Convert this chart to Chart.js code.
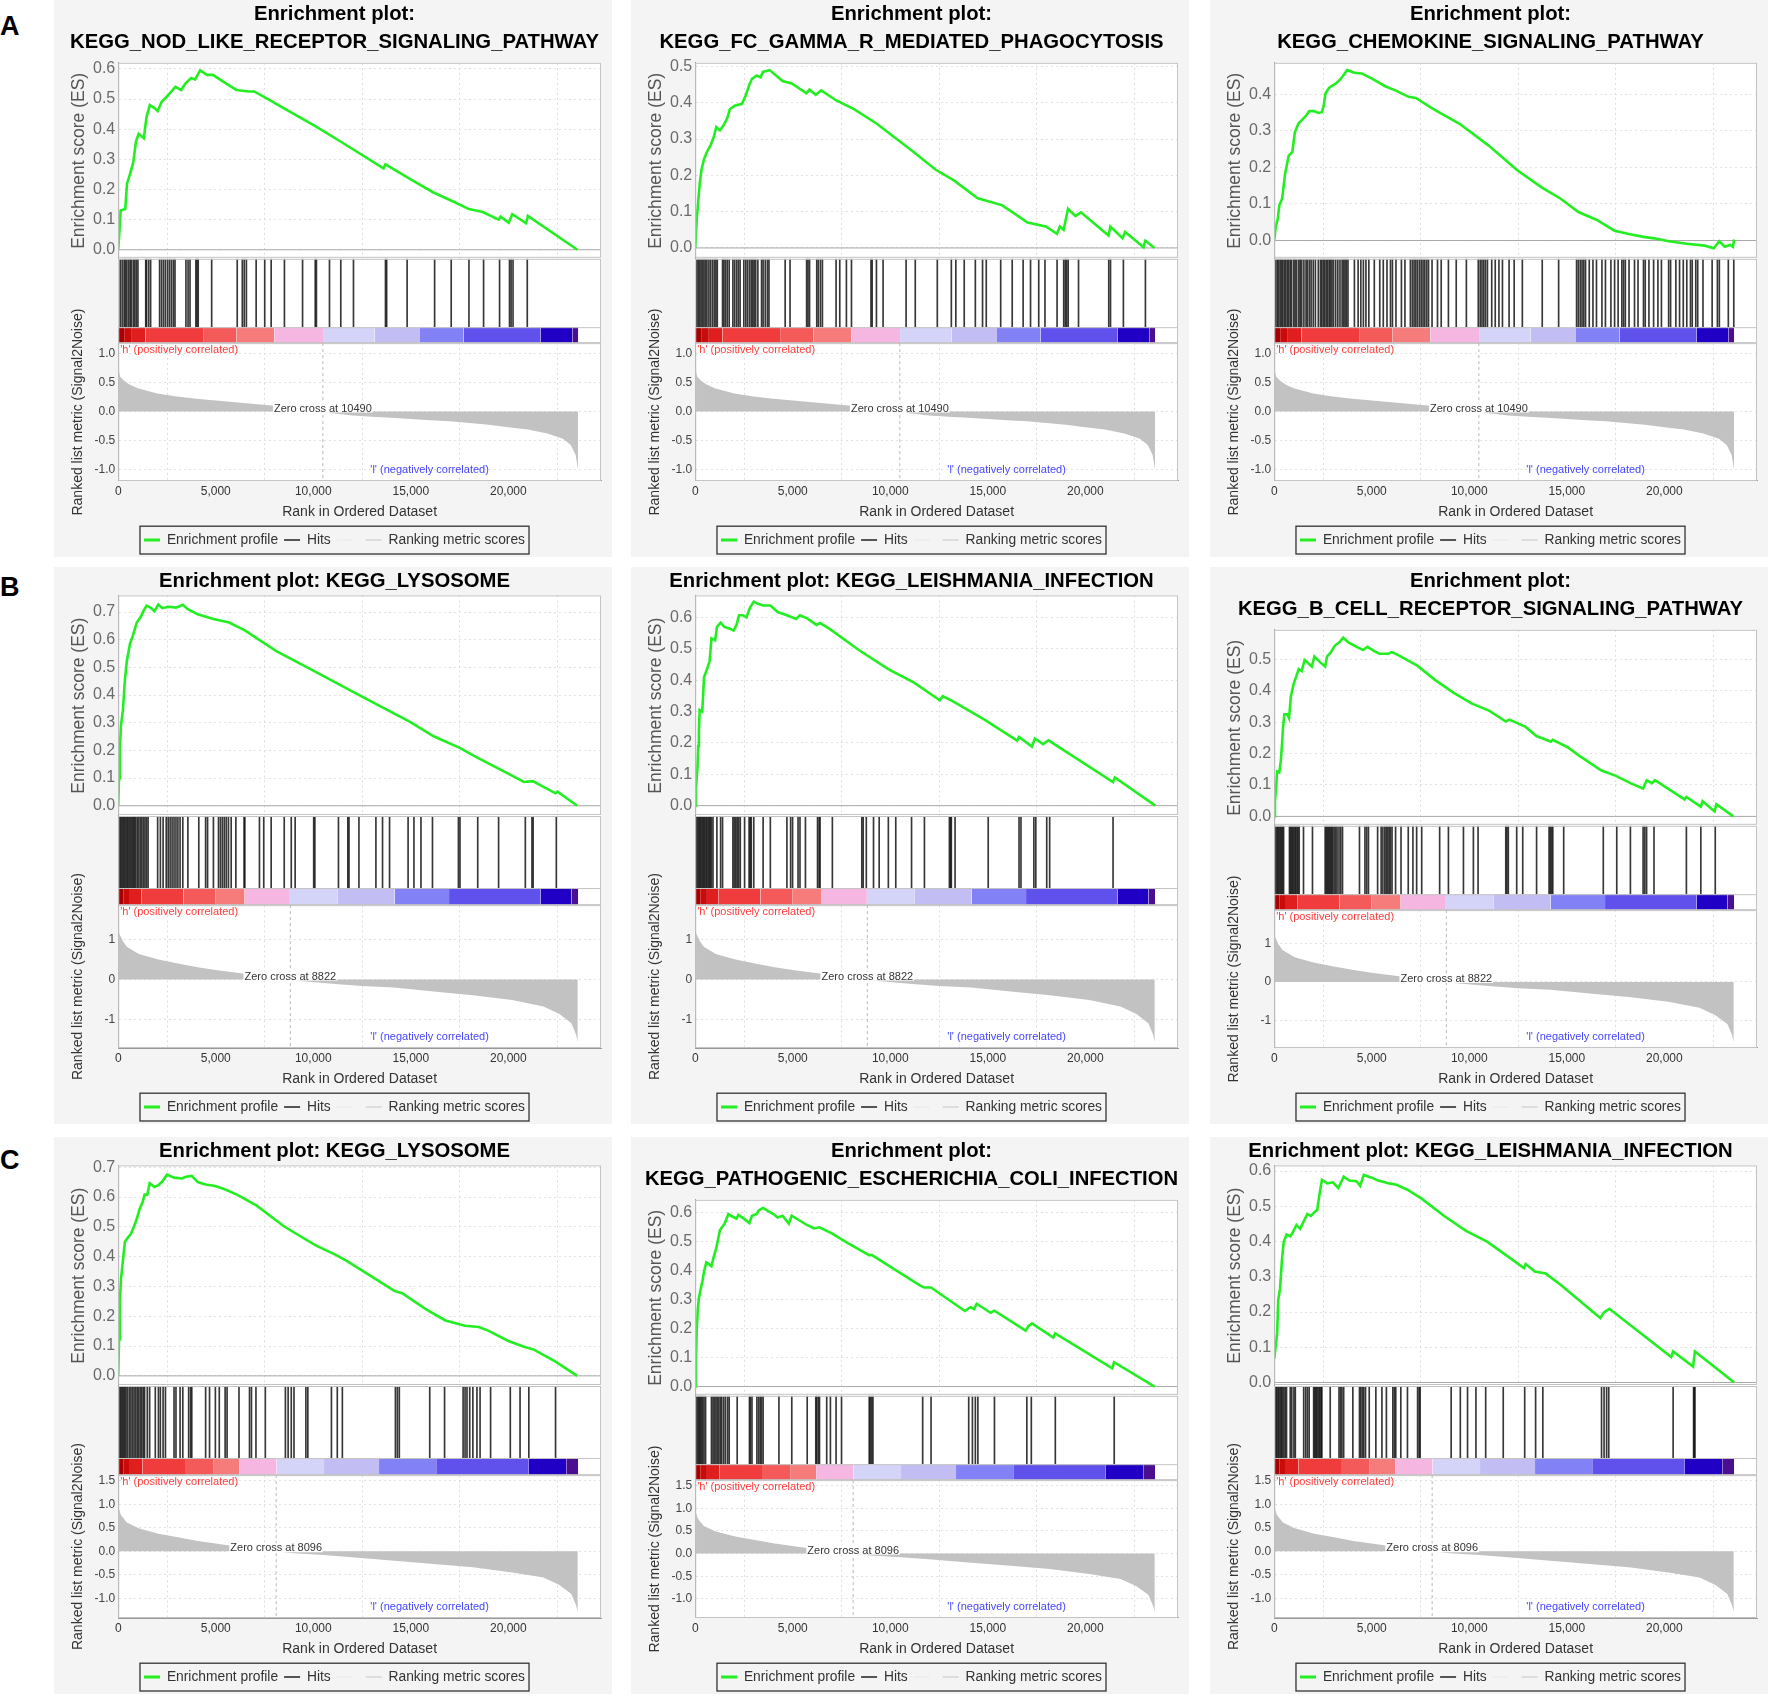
<!DOCTYPE html>
<html lang="en">
<head>
<meta charset="UTF-8">
<title>GSEA enrichment plots</title>
<script src="https://cdn.jsdelivr.net/npm/chart.js@4.4.1/dist/chart.umd.min.js"></script>
<style>
  body { margin: 0; background: #fff; }
  #page { position: relative; width: 1768px; height: 1696px; overflow: hidden; }
  .panel { position: absolute; width: 558px; height: 557px; background: #f4f4f4; }
  .tag { position: absolute; left: 0; line-height: 1; font: bold 27px "Liberation Sans", Arial, sans-serif; color: #000; }
</style>
</head>
<body>
<div id="page">
  <div class="tag" style="top:11px">A</div>
  <div class="tag" style="top:572px">B</div>
  <div class="tag" style="top:1145px">C</div>
</div>

<script>
// ---- data (rank in ordered dataset, value) ----
const titles = [
  ['Enrichment plot:', 'KEGG_NOD_LIKE_RECEPTOR_SIGNALING_PATHWAY'],
  ['Enrichment plot:', 'KEGG_FC_GAMMA_R_MEDIATED_PHAGOCYTOSIS'],
  ['Enrichment plot:', 'KEGG_CHEMOKINE_SIGNALING_PATHWAY'],
  ['Enrichment plot: KEGG_LYSOSOME'],
  ['Enrichment plot: KEGG_LEISHMANIA_INFECTION'],
  ['Enrichment plot:', 'KEGG_B_CELL_RECEPTOR_SIGNALING_PATHWAY'],
  ['Enrichment plot: KEGG_LYSOSOME'],
  ['Enrichment plot:', 'KEGG_PATHOGENIC_ESCHERICHIA_COLI_INFECTION'],
  ['Enrichment plot: KEGG_LEISHMANIA_INFECTION']
];

// enrichment score axis limits per panel [min, max]
const esLimits = [[-0.03, 0.62], [-0.03, 0.51], [-0.05, 0.486], [-0.037, 0.76], [-0.033, 0.67],
                  [-0.03, 0.594], [-0.034, 0.706], [-0.032, 0.645], [-0.01, 0.616]];
const esTicks = [0, 0.1, 0.2, 0.3, 0.4, 0.5, 0.6, 0.7];
const xTicks = [0, 5000, 10000, 15000, 20000];

const esA1 = [[0,0],[60,0.06],[120,0.13],[360,0.135],[450,0.22],[600,0.25],[770,0.29],[910,0.36],[1050,0.385],[1310,0.37],[1450,0.44],[1620,0.48],[1860,0.47],[2020,0.46],[2220,0.49],[2520,0.51],[2930,0.54],[3230,0.53],[3430,0.55],[3740,0.57],[3940,0.565],[4200,0.595],[4550,0.58],[4850,0.58],[5560,0.55],[6060,0.53],[6670,0.525],[6970,0.525],[7680,0.5],[8480,0.47],[10100,0.41],[11500,0.355],[13600,0.27],[13700,0.283],[14950,0.235],[16160,0.19],[17170,0.16],[17980,0.135],[18690,0.125],[19500,0.1],[19600,0.11],[20020,0.09],[20200,0.118],[20910,0.088],[21000,0.112],[23540,0]];
const esA2 = [[0,0],[76,0.078],[150,0.127],[227,0.176],[321,0.216],[453,0.245],[604,0.265],[793,0.284],[944,0.304],[1077,0.333],[1265,0.324],[1454,0.338],[1643,0.358],[1775,0.382],[2021,0.392],[2399,0.397],[2587,0.42],[2776,0.45],[2908,0.466],[3154,0.475],[3343,0.47],[3475,0.485],[3815,0.49],[4476,0.46],[4948,0.453],[5703,0.426],[5855,0.436],[6176,0.422],[6459,0.434],[7214,0.407],[8159,0.382],[9292,0.343],[11180,0.265],[12313,0.216],[13258,0.186],[14485,0.137],[15713,0.118],[16279,0.098],[17035,0.07],[17979,0.059],[18545,0.039],[18696,0.059],[18885,0.05],[19112,0.108],[19490,0.088],[19773,0.098],[21190,0.034],[21284,0.059],[21908,0.027],[22040,0.044],[22984,0.002],[23078,0.02],[23550,0]];
const esA3 = [[0,0],[74,0.037],[185,0.061],[259,0.096],[407,0.115],[556,0.183],[741,0.232],[926,0.242],[1056,0.296],[1241,0.32],[1426,0.33],[1611,0.34],[1796,0.354],[2037,0.354],[2259,0.349],[2444,0.351],[2537,0.369],[2630,0.403],[2815,0.418],[3148,0.429],[3407,0.442],[3741,0.466],[4111,0.459],[4481,0.457],[5037,0.442],[5685,0.422],[6241,0.41],[6889,0.393],[7259,0.39],[8185,0.359],[9481,0.32],[10963,0.261],[12444,0.193],[13741,0.144],[14667,0.115],[15593,0.078],[16519,0.057],[17444,0.027],[18185,0.018],[18926,0.01],[19481,0.006],[20222,-0.002],[21148,-0.009],[22074,-0.014],[22537,-0.021],[22815,-0.002],[23093,-0.017],[23370,-0.012],[23519,-0.017],[23574,0.003]];
const esB1 = [[0,0],[40,0.1],[81,0.21],[141,0.29],[242,0.347],[343,0.456],[444,0.525],[605,0.586],[746,0.614],[948,0.662],[1149,0.682],[1290,0.703],[1452,0.723],[1653,0.716],[1855,0.703],[2056,0.727],[2258,0.714],[2560,0.719],[2964,0.716],[3306,0.726],[3569,0.71],[4073,0.692],[4879,0.675],[5685,0.662],[6492,0.634],[8105,0.559],[10121,0.484],[12137,0.408],[14153,0.333],[14960,0.303],[16169,0.251],[17480,0.21],[18387,0.175],[19496,0.134],[20806,0.086],[21250,0.089],[22419,0.045],[22520,0.051],[23528,0]];
const esB2 = [[0,0],[38,0.053],[76,0.09],[113,0.12],[151,0.19],[189,0.238],[227,0.305],[359,0.3],[453,0.41],[604,0.435],[737,0.46],[831,0.533],[1020,0.527],[1114,0.57],[1303,0.583],[1492,0.57],[1775,0.564],[1964,0.558],[2115,0.576],[2247,0.607],[2436,0.607],[2625,0.6],[2814,0.632],[3003,0.65],[3192,0.644],[3475,0.638],[3853,0.638],[4230,0.617],[4702,0.607],[5175,0.595],[5363,0.607],[5741,0.597],[6213,0.576],[6402,0.582],[6874,0.564],[8385,0.496],[9896,0.435],[11218,0.392],[12540,0.336],[12691,0.349],[13106,0.336],[14806,0.275],[16505,0.207],[16600,0.219],[17261,0.188],[17413,0.214],[17828,0.196],[18111,0.208],[21416,0.075],[21511,0.09],[23588,0]];
const esB3 = [[0,0],[37,0.048],[111,0.106],[148,0.143],[259,0.14],[333,0.175],[389,0.221],[444,0.279],[519,0.325],[667,0.325],[759,0.313],[852,0.382],[1000,0.423],[1130,0.446],[1259,0.469],[1407,0.463],[1556,0.498],[1778,0.486],[1926,0.477],[2056,0.509],[2333,0.492],[2611,0.477],[2704,0.509],[2889,0.521],[3111,0.544],[3352,0.555],[3537,0.569],[3815,0.553],[4278,0.538],[4556,0.53],[4778,0.54],[5111,0.527],[5389,0.518],[5852,0.518],[6037,0.523],[6407,0.512],[7333,0.48],[8259,0.434],[9185,0.394],[10111,0.36],[11037,0.336],[11870,0.302],[12056,0.308],[12889,0.285],[13444,0.256],[14185,0.238],[14278,0.244],[15019,0.221],[15667,0.192],[16778,0.146],[17519,0.129],[18259,0.106],[18907,0.089],[19093,0.115],[19370,0.106],[19519,0.115],[21037,0.054],[21130,0.062],[21870,0.031],[21963,0.048],[22574,0.016],[22667,0.039],[23537,0]];
const esC1 = [[0,0],[40,0.123],[81,0.249],[141,0.325],[242,0.388],[343,0.45],[484,0.463],[645,0.476],[806,0.501],[948,0.526],[1089,0.558],[1250,0.583],[1351,0.608],[1492,0.608],[1613,0.646],[1855,0.634],[2056,0.64],[2258,0.652],[2500,0.675],[2863,0.665],[3266,0.662],[3468,0.668],[3770,0.671],[4073,0.65],[4476,0.642],[4980,0.637],[5484,0.625],[6089,0.608],[7097,0.571],[8508,0.501],[10121,0.438],[11129,0.407],[11734,0.385],[13145,0.327],[14153,0.285],[14556,0.277],[15766,0.224],[16774,0.186],[17782,0.168],[18488,0.164],[18992,0.151],[20000,0.117],[20806,0.098],[21310,0.088],[22419,0.048],[23528,0]];
const esC2 = [[0,0],[38,0.094],[76,0.193],[132,0.268],[189,0.305],[264,0.332],[378,0.367],[453,0.398],[567,0.429],[699,0.423],[831,0.416],[944,0.447],[1077,0.478],[1171,0.509],[1265,0.54],[1398,0.553],[1511,0.563],[1700,0.596],[1832,0.59],[2115,0.58],[2210,0.593],[2493,0.58],[2776,0.565],[2908,0.59],[3154,0.596],[3248,0.608],[3475,0.617],[4004,0.596],[4230,0.584],[4476,0.59],[4797,0.563],[4948,0.59],[5703,0.559],[6081,0.546],[6364,0.55],[7025,0.528],[7781,0.497],[8914,0.454],[9065,0.454],[10236,0.404],[11558,0.348],[11747,0.342],[12087,0.342],[13825,0.261],[14108,0.274],[14297,0.268],[14429,0.286],[15147,0.255],[15335,0.262],[16940,0.193],[17073,0.208],[17262,0.218],[18357,0.169],[18452,0.184],[21379,0.063],[21474,0.084],[23550,0]];
const esC3 = [[0,0.067],[37,0.067],[75,0.103],[149,0.14],[205,0.235],[299,0.267],[392,0.346],[485,0.399],[634,0.42],[821,0.415],[951,0.426],[1138,0.447],[1325,0.436],[1511,0.457],[1698,0.478],[1884,0.473],[2071,0.484],[2201,0.489],[2313,0.531],[2444,0.575],[2724,0.565],[3004,0.568],[3284,0.552],[3563,0.584],[3843,0.573],[4216,0.571],[4403,0.558],[4590,0.589],[4963,0.582],[5336,0.573],[5896,0.565],[6269,0.561],[6828,0.547],[7575,0.521],[8694,0.473],[9813,0.431],[10933,0.399],[11866,0.362],[12799,0.325],[12892,0.336],[13358,0.315],[13918,0.309],[14664,0.278],[15597,0.235],[16716,0.183],[16903,0.199],[17183,0.209],[20354,0.072],[20448,0.088],[21474,0.045],[21567,0.088],[23582,0]];

const hitsA1 = [100,200,300,360,440,530,610,670,770,850,930,1010,1410,1450,1560,1660,2120,2220,2320,2420,2530,2630,2730,2830,2910,3470,3580,3680,3980,4040,4100,4790,6100,6360,6460,6570,7070,7510,7840,8520,9450,10100,10160,10830,11410,12060,13700,13760,14810,16220,17070,17980,18730,19550,20060,20140,20240,20970];
const hitsA2 = [80,150,230,300,380,450,530,600,700,790,890,980,1060,1130,1400,1470,1550,1640,1740,1930,2020,2120,2210,2300,2490,2590,2680,2780,2870,2950,3020,3100,3210,3400,3480,3590,3700,3780,4610,4860,5710,5780,5860,6230,6310,6420,6520,7220,7410,7750,8010,9010,9070,9290,9630,10810,11280,12410,13130,13360,13790,14360,14730,14920,15660,16250,16810,17190,17610,17930,18550,18890,18970,19040,19120,19650,21200,21290,21950,23080];
const hitsA3 = [70,150,220,300,370,440,520,590,670,740,820,890,1000,1070,1150,1260,1330,1410,1520,1630,1700,1800,1890,2000,2110,2260,2370,2440,2520,2590,2670,2740,2820,2890,2960,3040,3150,3260,3370,3480,3560,3630,3700,3780,4110,4300,4440,4570,4700,4850,5130,5410,5590,5780,5960,6060,6240,6520,6700,6980,7080,7170,7260,7350,7450,7540,7630,7720,7820,7910,8090,8370,8560,8930,9330,9850,10460,10560,10650,10740,10830,10930,11150,11330,11520,11700,12040,12300,12720,13740,14580,15500,15590,15690,15780,15870,15960,16150,16340,16520,16800,16980,17260,17450,17630,17820,17910,18000,18190,18470,18650,18930,19020,19210,19450,19670,19850,20220,20320,20590,20780,20970,21150,21340,21430,21610,21710,21980,22450,22720,22820,23280,23560];
const hitsB1 = [40,100,160,220,280,340,400,460,520,590,650,710,770,830,890,970,1050,1130,1210,1290,1370,1450,1530,2020,2160,2300,2460,2560,2660,2760,2860,2960,3060,3170,3310,3570,4130,4480,4580,4880,5140,5240,5340,5440,5540,5650,5790,6030,6450,6490,7240,7460,7840,8510,8870,9070,10020,10080,11290,11770,11830,12340,13210,13550,13910,14860,15160,15520,16110,17440,17520,18430,19500,20870,21210,21270,22460];
const hitsB2 = [40,90,150,210,260,320,380,430,490,550,600,660,720,770,830,910,1110,1300,1400,1930,2000,2080,2150,2230,2310,2530,2760,2820,2870,3000,3480,3850,4700,4890,4990,5270,5370,5650,6270,6350,6400,7030,8540,8610,8770,9140,9430,9900,10280,11090,11750,13030,13090,13130,13320,15020,16600,16700,17360,17460,18020,18170,21420];
const hitsB3 = [40,90,150,200,260,320,370,430,480,780,830,890,940,1000,1060,1110,1170,1220,1280,1500,1960,2610,2670,2720,2780,2830,2890,2940,3000,3070,3150,3220,3320,3410,3500,4370,4650,4740,4830,5300,5480,5570,5670,5740,5820,5890,5960,6040,6220,6500,6870,7110,7300,7560,8480,8930,9700,10210,10450,11870,11930,12000,12430,12740,13450,14090,14150,14220,14280,14840,16870,17560,18260,18910,19000,19090,19470,21130,21870,22610];
const hitsC1 = [40,100,160,220,280,340,400,480,570,650,730,810,890,970,1050,1130,1210,1290,1350,1490,1610,1900,2060,2160,2300,2420,2860,2960,3170,3310,3610,3710,3770,4480,4680,4980,5180,5480,5580,6190,6730,6830,7060,7540,8570,8710,8870,9010,9620,9720,10930,11230,11490,14210,14310,14410,15970,16730,17680,17780,17880,18020,18180,18390,18550,19090,20100,20600,21050,22420];
const hitsC2 = [40,90,150,210,260,320,380,450,530,830,910,980,1060,1130,1210,1290,1360,1460,1550,1660,1740,2150,2780,2830,2910,3160,3250,3330,3400,3480,4290,4950,5740,6180,6230,6310,6370,6740,6930,7220,7500,8920,8970,9050,9110,11660,12090,14020,14210,14360,14490,15340,17000,17230,18460,21480];
const hitsC3 = [80,130,190,240,300,360,410,490,560,630,820,900,1010,1080,1510,1610,1700,1790,2020,2070,2130,2180,2240,2300,2350,2410,2440,2870,3320,3400,3470,3560,4030,4370,4440,4520,4590,4680,4870,5210,5520,5750,6080,6160,6230,6490,6830,7350,7430,7480,9070,9540,9910,10340,10840,11740,12840,13400,13770,16780,16910,17040,17150,20450,21500,21530,21570];

// ranked list metric (one ranking per row)
const rankA = [[0,0.75],[100,0.6],[300,0.53],[600,0.46],[1000,0.4],[2000,0.31],[3000,0.26],[4000,0.22],[5000,0.19],[6000,0.16],[7000,0.13],[8000,0.1],[9000,0.06],[10000,0.02],[10490,0],[11000,-0.03],[12000,-0.07],[13000,-0.09],[14000,-0.11],[15000,-0.13],[16000,-0.15],[17000,-0.17],[18000,-0.2],[19000,-0.23],[20000,-0.27],[21000,-0.31],[22000,-0.38],[22800,-0.47],[23200,-0.58],[23450,-0.75],[23570,-1.0]];
const rankB = [[0,1.34],[50,1.15],[240,0.96],[440,0.82],[1050,0.64],[2060,0.5],[3060,0.4],[4070,0.31],[5080,0.23],[6090,0.17],[7000,0.11],[8100,0.06],[8822,0],[9500,-0.04],[11130,-0.11],[12500,-0.16],[14150,-0.2],[16170,-0.3],[18180,-0.39],[20200,-0.51],[21800,-0.67],[22620,-0.86],[23230,-1.09],[23470,-1.37],[23560,-1.56]];
const rankC = [[0,1.0],[40,0.9],[140,0.77],[440,0.61],[1050,0.49],[2060,0.375],[3060,0.3],[4070,0.22],[5080,0.16],[6090,0.1],[7000,0.06],[8096,0],[9000,-0.04],[10520,-0.08],[12140,-0.13],[14150,-0.2],[16170,-0.27],[18180,-0.34],[20200,-0.45],[21810,-0.56],[22620,-0.72],[23230,-0.91],[23470,-1.15],[23560,-1.3]];
const rankLimits = [[-1.2, 1.18], [-1.71, 1.86], [-1.42, 1.62]];
const rankTicksA = [-1, -0.5, 0, 0.5, 1];
const rankTicksB = [-1, 0, 1];
const rankTicksC = [-1, -0.5, 0, 0.5, 1, 1.5];
const zeroCross = [10490, 8822, 8096];

// colour bar segment boundaries (rank) per row
const barA = [0,300,700,1400,4350,6070,8000,10500,13150,15470,17700,21660,23280,23580];
const barB = [0,250,600,1200,3340,5000,6480,8800,11230,14170,16960,21660,23240,23580];
const barC = [0,250,600,1250,3470,4900,6200,8120,10550,13370,16300,21050,22970,23580];

const xMax = 24750;

// ---- styles ----
const FONT = '"Liberation Sans", Arial, sans-serif';
const barColors = ['#a80000','#c80c0c','#e01e1e','#f03c3c','#f45a5a','#f67c7c','#f6b6e2','#d4d4f8','#c2bef4','#8282f6','#6050ec','#2000c4','#4a0e90'];
const legendItems = [
  {text: 'Enrichment profile', color: '#22ee22', w: 3},
  {text: 'Hits', color: '#555555', w: 2},
  {text: '', color: 'rgba(0,0,0,0.05)', w: 1},
  {text: 'Ranking metric scores', color: '#dddddd', w: 2}
];
const colLeft = [54, 631, 1210];
const rowTop = [0, 567, 1137];

Chart.defaults.font.family = FONT;

const panels = [
  {es: esA1, hits: hitsA1}, {es: esA2, hits: hitsA2}, {es: esA3, hits: hitsA3},
  {es: esB1, hits: hitsB1}, {es: esB2, hits: hitsB2}, {es: esB3, hits: hitsB3},
  {es: esC1, hits: hitsC1}, {es: esC2, hits: hitsC2}, {es: esC3, hits: hitsC3}
];
const rowRank = [rankA, rankB, rankC];
const rowRankTicks = [rankTicksA, rankTicksB, rankTicksC];
const rowBar = [barA, barB, barC];

// fixed tick positions taken from the lists above
function fixedTicks(values) {
  return axis => {
    axis.ticks = values.filter(v => v >= axis.min - 1e-9 && v <= axis.max + 1e-9).map(v => ({value: v}));
  };
}

function decor(row) {
  return {
    id: 'decor',
    beforeDraw(chart) {
      const {ctx, chartArea: a} = chart;
      ctx.save();
      ctx.fillStyle = '#fff';
      ctx.fillRect(a.left, a.top, a.right - a.left, a.bottom - a.top);
      ctx.restore();
    },
    beforeDatasetsDraw(chart) {
      const {ctx, chartArea: a, scales: s} = chart;
      ctx.save();
      // no grid inside the hits strip
      ctx.fillStyle = '#fff';
      ctx.fillRect(a.left, s.yHits.top, a.right - a.left, s.yBar.bottom - s.yHits.top);
      const y0 = s.yES.getPixelForValue(0);
      ctx.strokeStyle = '#a8a8a8';
      ctx.lineWidth = 1;
      ctx.beginPath(); ctx.moveTo(a.left, y0); ctx.lineTo(a.right, y0); ctx.stroke();
      ctx.restore();
    },
    afterDatasetsDraw(chart) {
      const {ctx, chartArea: a, scales: s} = chart;
      const w = a.right - a.left;
      ctx.save();
      ctx.strokeStyle = '#c4c4c4';
      ctx.lineWidth = 1;
      ctx.strokeRect(a.left + 0.5, s.yES.top + 0.5, w - 1, s.yES.bottom - s.yES.top - 2);
      ctx.strokeRect(a.left + 0.5, s.yHits.top + 0.5, w - 1, s.yBar.bottom - s.yHits.top - 1);
      ctx.beginPath(); ctx.moveTo(a.left, s.yBar.top + 0.5); ctx.lineTo(a.right, s.yBar.top + 0.5); ctx.stroke();
      ctx.strokeRect(a.left + 0.5, s.yRank.top + 0.5, w - 1, s.yRank.bottom - s.yRank.top - 1);

      // zero cross marker
      const zx = s.x.getPixelForValue(zeroCross[row]);
      const zy = s.yRank.getPixelForValue(0);
      ctx.setLineDash([3, 3]);
      ctx.strokeStyle = '#b8b8b8';
      ctx.beginPath(); ctx.moveTo(zx, s.yRank.top); ctx.lineTo(zx, s.yRank.bottom); ctx.stroke();
      ctx.setLineDash([]);
      ctx.font = '11px ' + FONT;
      ctx.textBaseline = 'middle';
      const label = 'Zero cross at ' + zeroCross[row];
      const tw = ctx.measureText(label).width;
      ctx.fillStyle = '#fff';
      ctx.fillRect(zx - tw / 2 - 1, zy - 8, tw + 2, 9);
      ctx.fillStyle = '#333';
      ctx.textAlign = 'center';
      ctx.fillText(label, zx, zy - 3);

      ctx.textAlign = 'left';
      ctx.fillStyle = '#ff3c3c';
      ctx.fillText("'h' (positively correlated)", s.x.getPixelForValue(100), s.yBar.bottom + 7);
      ctx.textAlign = 'right';
      ctx.fillStyle = '#4646ff';
      ctx.fillText("'l' (negatively correlated)", s.x.getPixelForValue(19000), s.yRank.bottom - 11);
      ctx.restore();
    },
    afterDraw(chart) {
      const boxes = chart.legend && chart.legend.legendHitBoxes;
      if (!boxes || !boxes.length) return;
      const l = Math.min(...boxes.map(b => b.left));
      const r = Math.max(...boxes.map(b => b.left + b.width));
      const t = Math.min(...boxes.map(b => b.top));
      const h = Math.max(...boxes.map(b => b.height));
      const ctx = chart.ctx;
      ctx.save();
      ctx.strokeStyle = '#333';
      ctx.lineWidth = 1.3;
      ctx.strokeRect(l - 4, t - 7, r - l + 8, h + 14);
      ctx.restore();
    }
  };
}

function build(p, idx) {
  const col = idx % 3, row = Math.floor(idx / 3);
  const div = document.createElement('div');
  div.className = 'panel';
  div.style.left = colLeft[col] + 'px';
  div.style.top = rowTop[row] + 'px';
  const canvas = document.createElement('canvas');
  canvas.width = 558; canvas.height = 557;
  canvas.style.width = '558px'; canvas.style.height = '557px';
  div.appendChild(canvas);
  document.getElementById('page').appendChild(div);

  const title = titles[idx];
  const twoLine = title.length > 1;
  const weights = twoLine ? [172, 60, 14, 121] : [193, 63, 15, 125];
  const [esMin, esMax] = esLimits[idx];
  const [rMin, rMax] = rankLimits[row];
  const rDec = row === 1 ? 0 : 1;
  const bounds = rowBar[row];

  const datasets = [
    {type: 'line', label: 'Enrichment profile', yAxisID: 'yES',
     data: p.es.map(([x, y]) => ({x, y})),
     borderColor: '#22ee22', borderWidth: 2.6, pointRadius: 0, tension: 0, fill: false},
    {type: 'bar', label: 'Hits', yAxisID: 'yHits',
     data: p.hits.map(x => ({x, y: [0, 1]})),
     backgroundColor: 'rgba(20,20,20,0.85)', barThickness: 1}
  ];
  for (let i = 0; i < bounds.length - 1; i++) {
    datasets.push({type: 'line', label: '', yAxisID: 'yBar',
      data: [{x: bounds[i], y: 1}, {x: bounds[i + 1], y: 1}],
      fill: 'origin', backgroundColor: barColors[i], borderWidth: 0, pointRadius: 0});
  }
  datasets.push({type: 'line', label: 'Ranking metric scores', yAxisID: 'yRank',
    data: rowRank[row].map(([x, y]) => ({x, y})),
    fill: 'origin', backgroundColor: '#c2c2c2', borderWidth: 0, pointRadius: 0, tension: 0});

  const hidden = {ticks: {display: false}, grid: {display: false}, border: {display: false}};

  new Chart(canvas, {
    type: 'line',
    data: {datasets},
    options: {
      responsive: false,
      animation: false,
      events: [],
      layout: {padding: {left: 14, right: 11, top: 0, bottom: 0}},
      plugins: {
        tooltip: {enabled: false},
        title: {display: true, text: title, color: '#000',
                font: {size: 20.3, weight: 'bold', lineHeight: 1.4},
                padding: {top: 0, bottom: twoLine ? 6 : 0}},
        legend: {
          position: 'bottom',
          labels: {
            usePointStyle: true, pointStyleWidth: 16, padding: 6, color: '#333',
            font: {size: 13.8},
            generateLabels: () => legendItems.map((it, i) => ({
              text: it.text, strokeStyle: it.color, fillStyle: it.color, lineWidth: it.w,
              pointStyle: 'line', hidden: false, fontColor: '#333', datasetIndex: i
            }))
          }
        }
      },
      scales: {
        x: {type: 'linear', min: 0, max: xMax, offset: false,
            afterBuildTicks: fixedTicks(xTicks),
            ticks: {autoSkip: false, padding: 3, color: '#333', font: {size: 12}, maxRotation: 0,
                    callback: v => v.toLocaleString('en-US')},
            grid: {color: '#dedede', drawTicks: false},
            border: {color: '#999', dash: [2, 3]},
            title: {display: true, text: 'Rank in Ordered Dataset', color: '#333', font: {size: 14},
                    padding: {top: 2, bottom: 7}}},
        yRank: {type: 'linear', position: 'left', stack: 'gsea', stackWeight: weights[3],
            min: rMin, max: rMax,
            afterBuildTicks: fixedTicks(rowRankTicks[row]),
            ticks: {autoSkip: false, color: '#444', font: {size: 12}, padding: 3,
                    callback: v => v.toFixed(rDec)},
            grid: {color: '#e2e2e2', drawTicks: false},
            border: {color: '#999', dash: [2, 3]},
            title: {display: true, text: 'Ranked list metric (Signal2Noise)', color: '#333',
                    font: {size: 14}, padding: {top: 2, bottom: 2}}},
        yBar: Object.assign({type: 'linear', position: 'left', stack: 'gsea', stackWeight: weights[2],
            min: 0, max: 1}, hidden),
        yHits: Object.assign({type: 'linear', position: 'left', stack: 'gsea', stackWeight: weights[1],
            min: 0, max: 1}, hidden),
        yES: {type: 'linear', position: 'left', stack: 'gsea', stackWeight: weights[0],
            min: esMin, max: esMax,
            afterBuildTicks: fixedTicks(esTicks),
            ticks: {autoSkip: false, color: '#6a6a6a', font: {size: 16}, padding: 3,
                    callback: v => v.toFixed(1)},
            grid: {color: '#e2e2e2', drawTicks: false},
            border: {color: '#999', dash: [2, 3]},
            title: {display: true, text: 'Enrichment score (ES)', color: '#555',
                    font: {size: 17.5}, padding: {top: 1, bottom: 0}}}
      }
    },
    plugins: [decor(row)]
  });
}

panels.forEach(build);
</script>
</body>
</html>
